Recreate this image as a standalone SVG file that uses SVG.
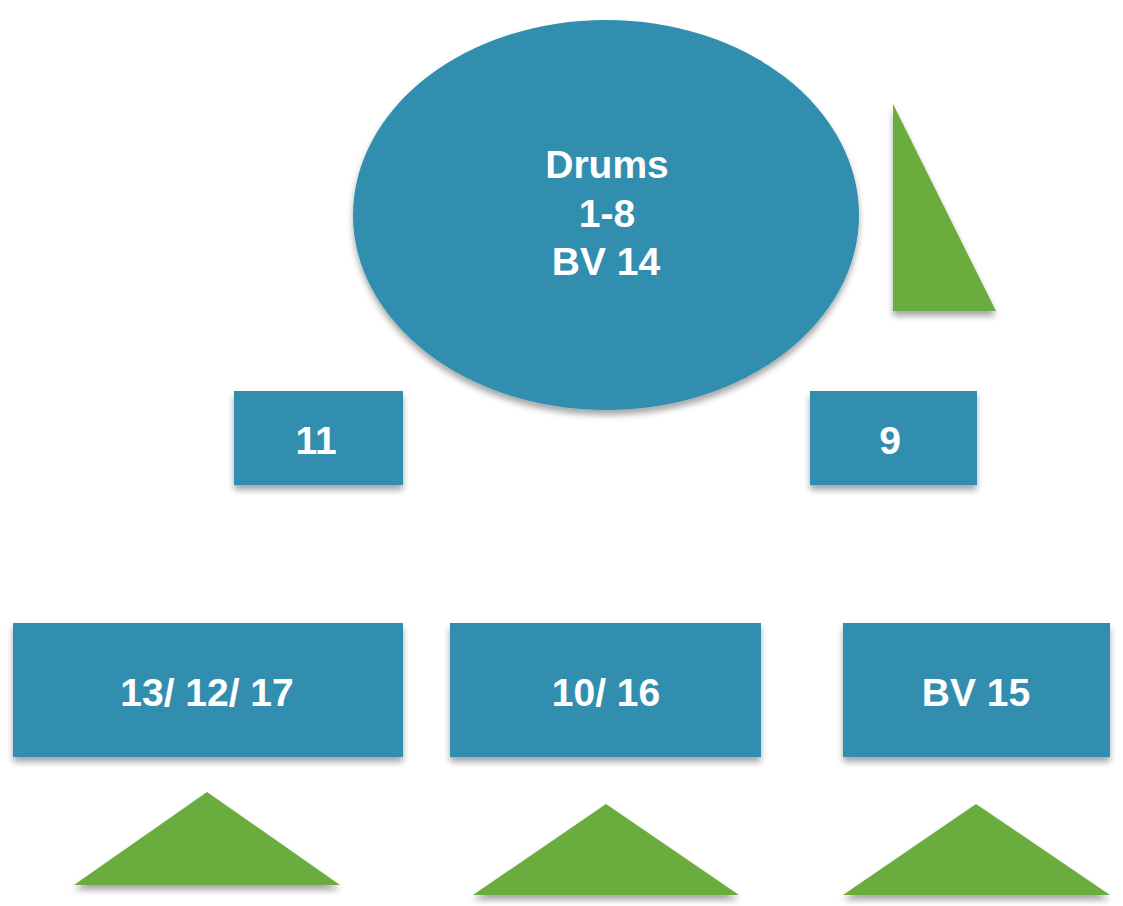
<svg xmlns="http://www.w3.org/2000/svg" width="1123" height="906" viewBox="0 0 1123 906">
<style>
.b{fill:#308eae;filter:url(#sh)}
.g{fill:#6bac3e;filter:url(#sh)}
.t{font-family:"Liberation Sans",Arial,sans-serif;font-weight:bold;font-size:39px;fill:#ffffff;text-anchor:middle}
</style>
<defs>
<filter id="sh" x="-10%" y="-10%" width="120%" height="130%">
<feDropShadow dx="0" dy="5" stdDeviation="3" flood-color="#000" flood-opacity="0.35"/>
</filter>
</defs>
<rect width="1123" height="906" fill="#ffffff"/>
<g id="drums">
<ellipse class="b" cx="606" cy="215" rx="253" ry="195"/>
<text class="t" x="607" y="178">Drums</text>
<text class="t" x="607" y="227">1-8</text>
<text class="t" x="606" y="275">BV 14</text>
</g>
<g id="tri-right"><polygon class="g" points="893,104 893,311 996,311"/></g>
<g id="n11">
<rect class="b" x="234" y="391" width="169" height="94"/>
<text class="t" x="316" y="454">11</text>
</g>
<g id="n9">
<rect class="b" x="810" y="391" width="167" height="94"/>
<text class="t" x="890" y="454">9</text>
</g>
<g id="n13">
<rect class="b" x="13" y="623" width="390" height="134"/>
<text class="t" x="207" y="706">13/ 12/ 17</text>
</g>
<g id="n10">
<rect class="b" x="450" y="623" width="311" height="134"/>
<text class="t" x="606" y="706">10/ 16</text>
</g>
<g id="nbv15">
<rect class="b" x="843" y="623" width="267" height="134"/>
<text class="t" x="976" y="706">BV 15</text>
</g>
<g id="tri1"><polygon class="g" points="207,792 340,885 74,885"/></g>
<g id="tri2"><polygon class="g" points="606,804 739,895 473,895"/></g>
<g id="tri3"><polygon class="g" points="976,804 1110,895 843,895"/></g>
<g id="connectors"></g>
</svg>
